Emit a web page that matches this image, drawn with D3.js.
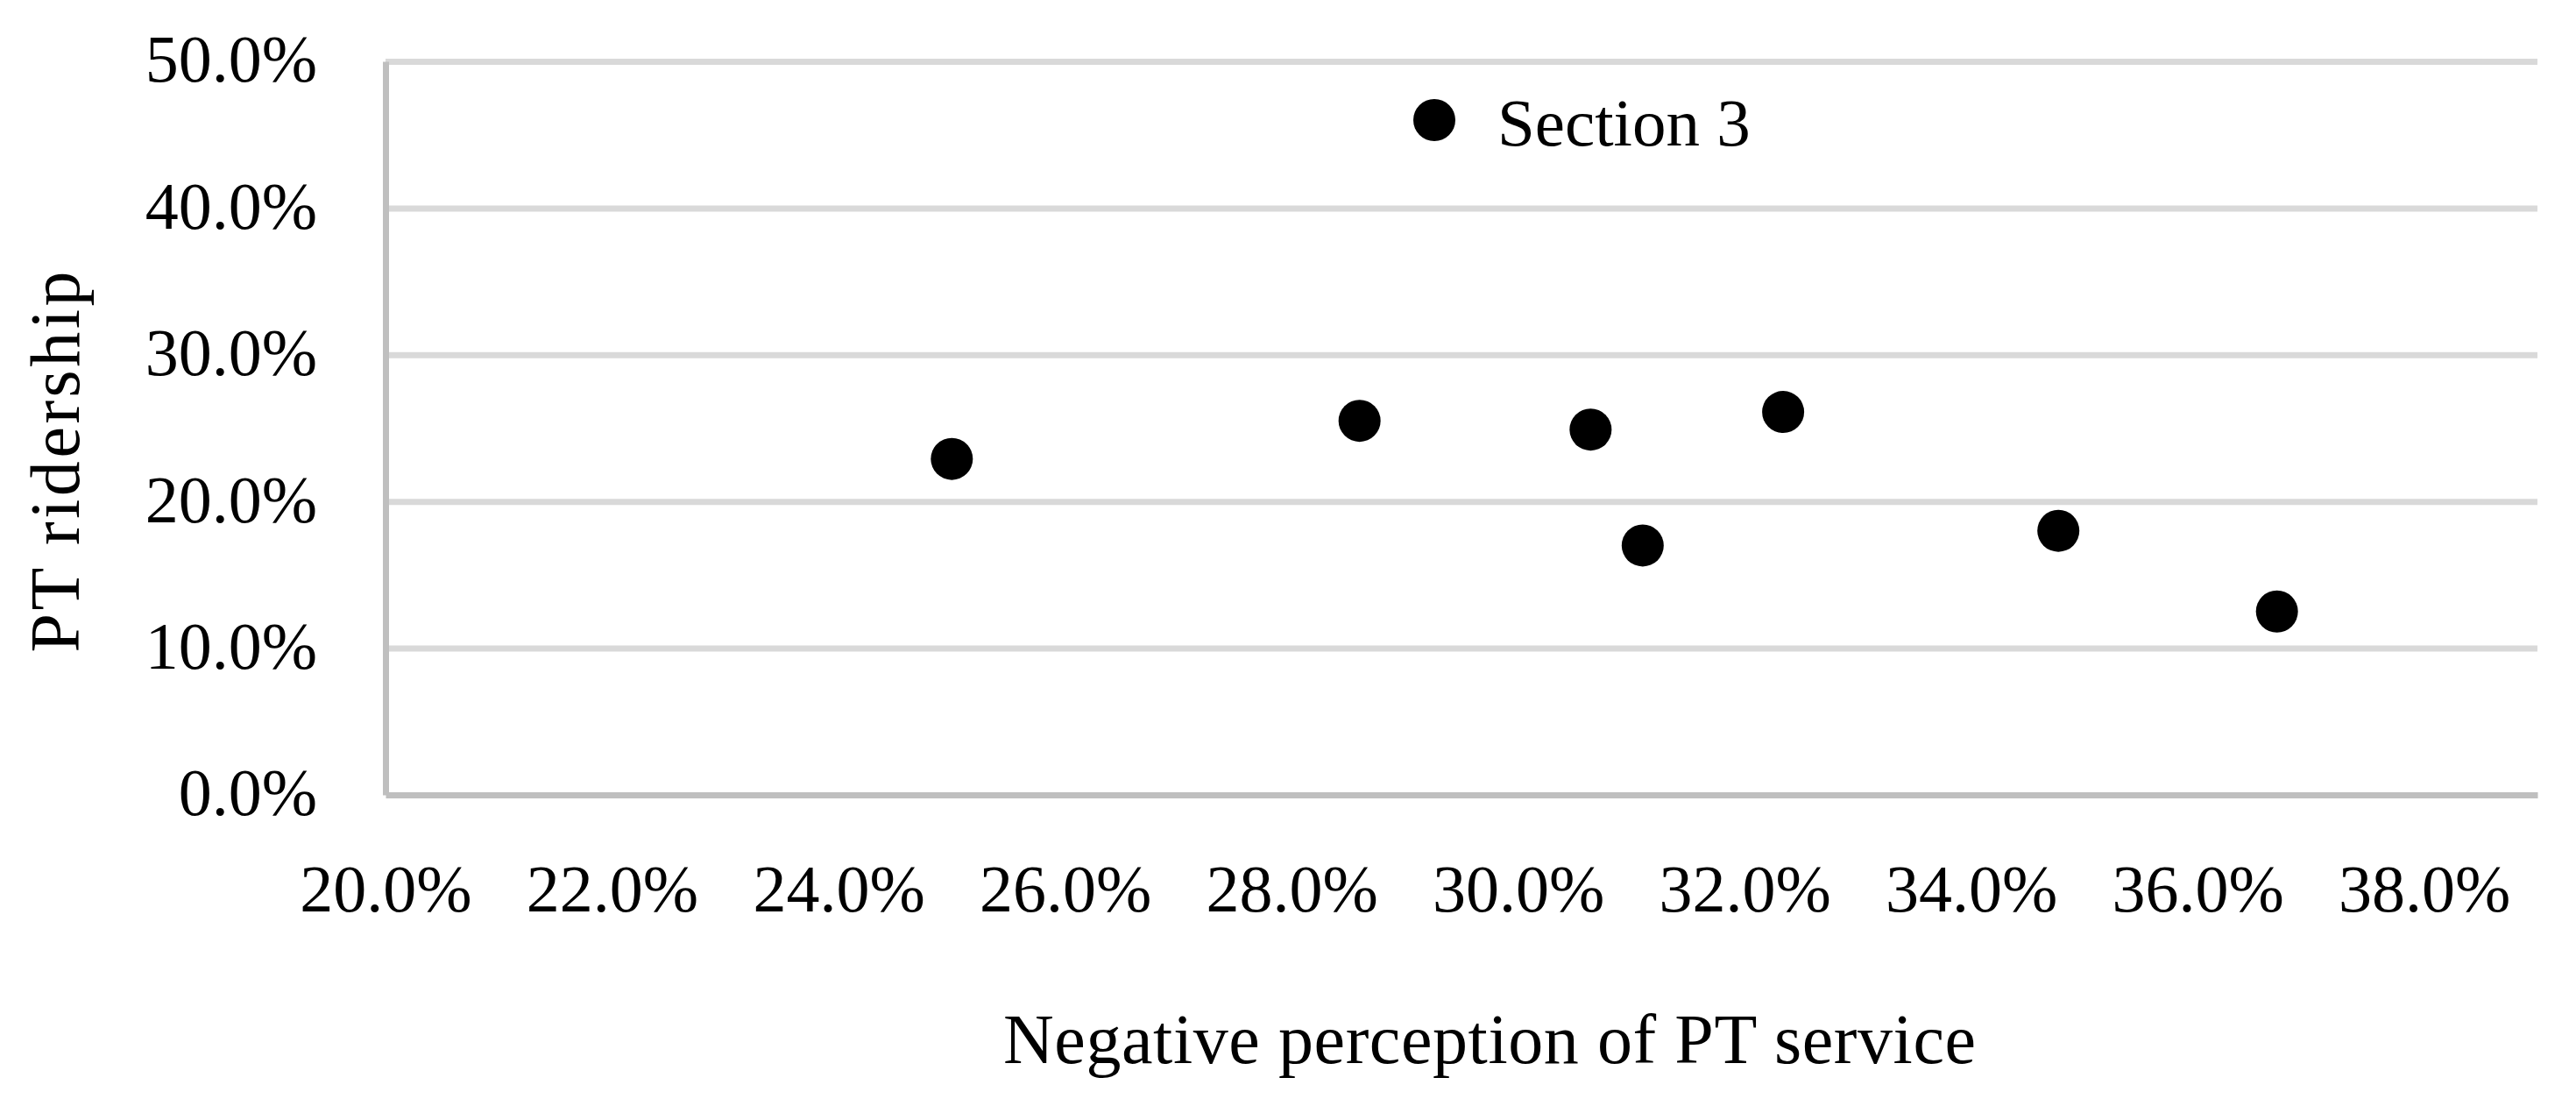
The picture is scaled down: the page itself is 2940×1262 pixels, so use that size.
<!DOCTYPE html>
<html>
<head>
<meta charset="utf-8">
<script src="https://cdn.jsdelivr.net/npm/d3@7"></script>
<style>
  body { margin: 0; background: #fff; }
  text { font-family: "Liberation Serif", "Times New Roman", serif; fill: #000; }
</style>
</head>
<body>
<div id="chart"></div>
<script>
// Data (fractions)
const negPerception = [0.250, 0.286, 0.3064, 0.311, 0.3234, 0.3477, 0.367];
const ptRidership = [0.229, 0.255, 0.249, 0.170, 0.261, 0.180, 0.125];
const xTicks = [0.20, 0.22, 0.24, 0.26, 0.28, 0.30, 0.32, 0.34, 0.36, 0.38];
const yTicks = [0, 0.1, 0.2, 0.3, 0.4, 0.5];
const seriesName = "Section 3";

// Plot constants
const WIDTH = 2940, HEIGHT = 1262;
const MARGIN = {LEFT: 440, RIGHT: 44, TOP: 70, BOTTOM: 355};
const DOT_R = 24;

const svg = d3.select("#chart")
  .append("svg")
  .attr("width", WIDTH)
  .attr("height", HEIGHT);

const x = d3.scaleLinear()
  .domain([0.20, 0.39])
  .range([MARGIN.LEFT, WIDTH - MARGIN.RIGHT]);

const y = d3.scaleLinear()
  .domain([0, 0.5])
  .range([HEIGHT - MARGIN.BOTTOM, MARGIN.TOP]);

const fmt = d3.format(".1%");

// horizontal gridlines
svg.append("g")
  .attr("transform", "translate(" + MARGIN.LEFT + ",0)")
  .call(d3.axisLeft(y).tickValues(yTicks.slice(1)).tickSize(-(x.range()[1] - x.range()[0])).tickFormat(""))
  .call(g => g.select(".domain").remove())
  .selectAll("line")
  .attr("stroke", "#d9d9d9")
  .attr("stroke-width", 7);

// y axis line + labels
const yAxis = svg.append("g")
  .attr("transform", "translate(" + MARGIN.LEFT + ",0)")
  .call(d3.axisLeft(y).tickValues(yTicks).tickSize(0).tickPadding(78).tickFormat(fmt));
yAxis.select(".domain").attr("stroke", "#bfbfbf").attr("stroke-width", 7);
yAxis.selectAll("text")
  .attr("font-size", 76)
  .attr("font-family", "Liberation Serif")
  .attr("dy", "0.3em");

// x axis line + labels
const xAxis = svg.append("g")
  .attr("transform", "translate(0," + y(0) + ")")
  .call(d3.axisBottom(x).tickValues(xTicks).tickSize(0).tickPadding(0).tickFormat(fmt));
xAxis.select(".domain").attr("stroke", "#bfbfbf").attr("stroke-width", 7);
xAxis.selectAll("text")
  .attr("font-size", 76)
  .attr("font-family", "Liberation Serif")
  .attr("y", 1040 - y(0))
  .attr("dy", 0);

// points
svg.append("g")
  .selectAll("circle")
  .data(negPerception)
  .enter()
  .append("circle")
  .attr("cx", d => x(d))
  .attr("cy", (d, i) => y(ptRidership[i]))
  .attr("r", DOT_R)
  .attr("fill", "#000");

// legend
const legend = svg.append("g").attr("transform", "translate(1637,137)");
legend.append("circle").attr("r", DOT_R).attr("fill", "#000");
legend.append("text")
  .attr("x", 72)
  .attr("y", 29)
  .attr("font-size", 77)
  .text(seriesName);

// axis titles
svg.append("text")
  .attr("x", 1700)
  .attr("y", 1213)
  .attr("text-anchor", "middle")
  .attr("font-size", 80)
  .attr("textLength", 1110)
  .attr("lengthAdjust", "spacing")
  .text("Negative perception of PT service");

svg.append("text")
  .attr("transform", "translate(90,527) rotate(-90)")
  .attr("text-anchor", "middle")
  .attr("font-size", 80)
  .attr("textLength", 435)
  .attr("lengthAdjust", "spacing")
  .text("PT ridership");
</script>
</body>
</html>
